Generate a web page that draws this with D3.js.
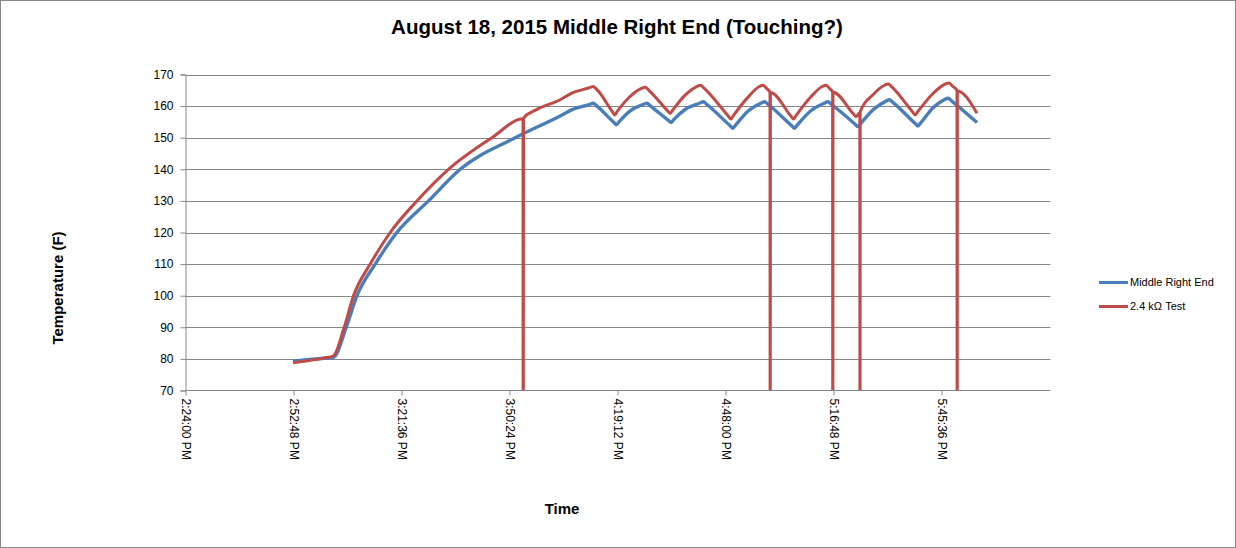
<!DOCTYPE html>
<html>
<head>
<meta charset="utf-8">
<script src="https://cdn.jsdelivr.net/npm/d3@7/dist/d3.min.js"></script>
<style>
  html, body { margin: 0; padding: 0; background: #fff; }
  svg { display: block; }
  text { font-family: "Liberation Sans", Arial, sans-serif; fill: #000; }
</style>
</head>
<body>
<svg id="chart" width="1236" height="548"></svg>
<script>
// ---- Data ----
const chartTitle = "August 18, 2015 Middle Right End (Touching?)";
const seriesNames = ["Middle Right End", "2.4 kΩ Test"];

const blueTimes = ["14:52:40","14:57:00","15:01:00","15:03:28","15:06:51","15:09:43","15:14:35","15:20:22",
  "15:28:48","15:37:15","15:51:55","16:03:55","16:06:59","16:11:43","16:12:43","16:13:43","16:18:16",
  "16:18:56","16:19:36","16:22:30","16:26:02","16:27:02","16:28:02","16:32:51","16:33:31","16:34:11",
  "16:37:20","16:41:03","16:42:03","16:43:03","16:49:18","16:49:58","16:50:38","16:54:10","16:57:24",
  "16:58:24","16:59:24","17:05:44","17:06:24","17:07:04","17:10:50","17:14:17","17:15:17","17:16:17",
  "17:22:38","17:23:18","17:23:58","17:27:30","17:30:42","17:31:42","17:32:42","17:38:40","17:39:20",
  "17:40:00","17:43:30","17:46:20","17:47:20","17:48:20","17:55:04"];
const blueValues = [79.3,79.8,80.2,80.5,90.0,100.0,110.0,120.0,
  130.0,140.0,150.0,156.9,158.8,160.5,160.9,160.0,154.8,
  154.1,155.0,158.4,160.5,160.9,160.0,155.4,154.8,155.7,
  159.0,160.9,161.4,160.5,153.7,153.0,153.9,158.6,160.9,
  161.4,160.5,153.7,153.0,153.9,158.6,160.9,161.4,160.5,
  154.2,153.5,154.4,159.0,161.5,162.0,161.1,154.4,153.7,
  154.6,159.6,162.0,162.5,161.6,154.8];

const redTimes = ["14:52:40","14:57:00","15:01:00","15:03:28","15:06:19","15:08:48","15:13:15","15:18:35",
  "15:25:43","15:34:08","15:45:43","15:54:00","15:54:03","15:54:08","15:57:28","16:03:55","16:06:59",
  "16:11:43","16:12:43","16:13:43","16:17:47","16:18:27","16:19:07","16:22:20","16:25:34","16:26:34",
  "16:27:34","16:32:34","16:33:14","16:33:54","16:37:10","16:40:20","16:41:20","16:42:20","16:48:46",
  "16:49:26","16:50:06","16:53:50","16:57:02","16:58:02","16:59:02","16:59:52","16:59:55","16:59:58",
  "17:05:28","17:06:08","17:06:48","17:10:40","17:13:48","17:14:48","17:15:48","17:16:34","17:16:37",
  "17:16:40","17:22:08","17:22:48","17:23:28","17:23:49","17:23:52","17:23:55","17:27:20","17:30:25",
  "17:31:25","17:32:25","17:37:55","17:38:35","17:39:15","17:43:20","17:46:38","17:47:38","17:48:38",
  "17:49:44","17:49:47","17:49:50","17:55:04"];
const redValues = [78.8,79.5,80.3,81.0,90.0,100.0,110.0,120.0,
  130.0,140.0,150.0,156.0,0,156.2,158.8,162.0,164.1,
  165.8,166.2,165.2,158.3,157.2,158.3,162.8,165.6,166.0,
  165.0,158.5,157.7,158.7,163.4,166.2,166.6,165.6,156.8,
  155.9,157.0,162.6,166.2,166.6,165.5,164.4,0,164.3,
  156.8,155.9,157.0,162.8,166.2,166.6,165.5,164.5,0,
  164.4,157.5,156.7,157.5,158.0,0,158.2,163.6,166.6,
  167.0,166.0,158.1,157.2,158.2,164.0,167.0,167.3,166.2,
  165.0,0,164.8,157.7];

const yTicks = [70,80,90,100,110,120,130,140,150,160,170];
const xTickLabels = ["2:24:00 PM","2:52:48 PM","3:21:36 PM","3:50:24 PM","4:19:12 PM","4:48:00 PM","5:16:48 PM","5:45:36 PM"];

// ---- helpers ----
function toSec(s) { const p = s.split(":").map(Number); return p[0]*3600 + p[1]*60 + (p[2]||0); }

const svg = d3.select("#chart");
const W = 1236, H = 548;
const plot = { left: 185.5, right: 1049.5, top: 74.5, bottom: 390.5 };

// outer border
svg.append("rect").attr("x",0.5).attr("y",0.5).attr("width",W-1).attr("height",H-1)
  .attr("fill","#fff").attr("stroke","#868686").attr("stroke-width",1);

const x = d3.scaleLinear().domain([0.60*86400, 0.76*86400]).range([plot.left, plot.right]);
const y = d3.scaleLinear().domain([70,170]).range([plot.bottom, plot.top]);
const xTickVals = d3.range(0, 8).map(i => (0.60 + 0.02*i) * 86400);

// gridlines
svg.append("g").selectAll("line").data(yTicks.filter(v => v !== 70)).join("line")
  .attr("x1", plot.left).attr("x2", plot.right + 1)
  .attr("y1", d => Math.round(y(d)) + 0.5).attr("y2", d => Math.round(y(d)) + 0.5)
  .attr("stroke","#868686").attr("stroke-width",1);

// y axis
const yAxis = d3.axisLeft(y).tickValues(yTicks).tickSize(5).tickPadding(7).tickFormat(d3.format("d"));
const gy = svg.append("g").attr("transform",`translate(${plot.left},0)`).call(yAxis);
gy.select(".domain").attr("stroke","#868686");
gy.selectAll(".tick line").attr("stroke","#868686");
gy.selectAll(".tick text").attr("font-size","12px").attr("font-family","Liberation Sans, Arial, sans-serif").attr("fill","#000");

// x axis
const xAxis = d3.axisBottom(x).tickValues(xTickVals).tickSize(5).tickSizeOuter(0).tickFormat("");
const gx = svg.append("g").attr("transform",`translate(0,${plot.bottom})`).call(xAxis);
gx.select(".domain").attr("stroke","#868686").attr("d", `M${plot.left},0H${plot.right + 1}`);
gx.selectAll(".tick line").attr("stroke","#868686");
gx.selectAll(".tick").append("text")
  .attr("transform","translate(0,8) rotate(90)")
  .attr("text-anchor","start").attr("dy","0.35em")
  .attr("font-size","12px").attr("font-family","Liberation Sans, Arial, sans-serif").attr("fill","#000")
  .text((d,i) => xTickLabels[i]);

// clip
svg.append("clipPath").attr("id","clip").append("rect")
  .attr("x", plot.left).attr("y", plot.top - 10).attr("width", plot.right - plot.left).attr("height", plot.bottom - plot.top + 9.5);

const line = d3.line().x(d => x(d[0])).y(d => y(d[1])).curve(d3.curveMonotoneX);
const blueData = blueTimes.map((t,i) => [toSec(t), blueValues[i]]);
const redData = redTimes.map((t,i) => [toSec(t), redValues[i]]);

const lines = svg.append("g").attr("clip-path","url(#clip)");
lines.append("path").datum(blueData).attr("d", line)
  .attr("fill","none").attr("stroke","#4A7EBB").attr("stroke-width",3.4).attr("stroke-linejoin","round");
lines.append("path").datum(redData).attr("d", line)
  .attr("fill","none").attr("stroke","#BE4B48").attr("stroke-width",3).attr("stroke-linejoin","round");

// titles
svg.append("text").attr("x", 617).attr("y", 34).attr("text-anchor","middle")
  .attr("font-size","20.5px").attr("font-weight","bold").text(chartTitle);
svg.append("text").attr("transform","translate(63,288) rotate(-90)").attr("text-anchor","middle")
  .attr("font-size","15px").attr("font-weight","bold").text("Temperature (F)");
svg.append("text").attr("x", 562).attr("y", 514).attr("text-anchor","middle")
  .attr("font-size","15px").attr("font-weight","bold").text("Time");

// legend
const legendColors = ["#4A7EBB","#BE4B48"];
const lg = svg.append("g");
seriesNames.forEach((name, i) => {
  const ly = 282.5 + i*24;
  lg.append("line").attr("x1",1099).attr("x2",1128).attr("y1",ly).attr("y2",ly)
    .attr("stroke",legendColors[i]).attr("stroke-width",3);
  lg.append("text").attr("x",1130).attr("y",ly).attr("dy","0.35em")
    .attr("font-size","11px").text(name);
});
</script>
</body>
</html>
